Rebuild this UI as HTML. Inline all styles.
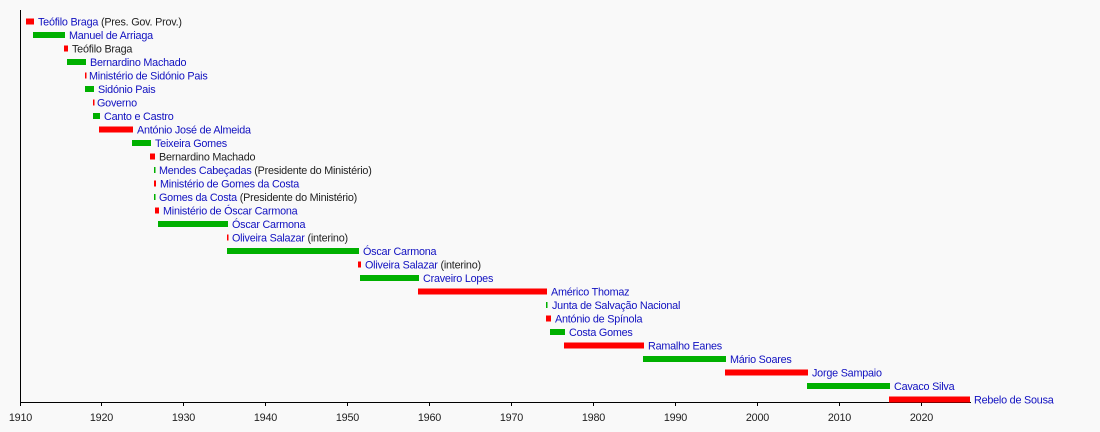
<!DOCTYPE html>
<html><head><meta charset="utf-8"><style>
html,body{margin:0;padding:0;background:#f9f9f9;}
svg{display:block;font-family:"Liberation Sans",sans-serif;}
.t{font-size:10.8px;letter-spacing:-0.22px;fill:#1010c0;}
.k{fill:#222;}
.r{fill:#f00;}.g{fill:#00b000;}
</style></head><body>
<svg width="1100" height="432" xmlns="http://www.w3.org/2000/svg">
<rect width="1100" height="432" fill="#f9f9f9"/>
<line x1="20.5" y1="10" x2="20.5" y2="402" stroke="#000"/>
<line x1="20" y1="402.5" x2="971" y2="402.5" stroke="#000"/>
<g stroke="#000">
<line x1="20.5" y1="402" x2="20.5" y2="406"/><line x1="101.5" y1="402" x2="101.5" y2="406"/><line x1="183.5" y1="402" x2="183.5" y2="406"/><line x1="265.5" y1="402" x2="265.5" y2="406"/><line x1="347.5" y1="402" x2="347.5" y2="406"/><line x1="429.5" y1="402" x2="429.5" y2="406"/><line x1="511.5" y1="402" x2="511.5" y2="406"/><line x1="593.5" y1="402" x2="593.5" y2="406"/><line x1="675.5" y1="402" x2="675.5" y2="406"/><line x1="757.5" y1="402" x2="757.5" y2="406"/><line x1="839.5" y1="402" x2="839.5" y2="406"/><line x1="921.5" y1="402" x2="921.5" y2="406"/>
</g>
<g font-size="10.8" fill="#222" text-anchor="middle" letter-spacing="-0.2">
<text x="20.5" y="421">1910</text><text x="101.5" y="421">1920</text><text x="183.5" y="421">1930</text><text x="265.5" y="421">1940</text><text x="347.5" y="421">1950</text><text x="429.5" y="421">1960</text><text x="511.5" y="421">1970</text><text x="593.5" y="421">1980</text><text x="675.5" y="421">1990</text><text x="757.5" y="421">2000</text><text x="839.5" y="421">2010</text><text x="921.5" y="421">2020</text>
</g>
<g>
<rect class="r" x="26" y="18.5" width="8" height="6"/><text class="t" x="38" y="25.5">Teófilo Braga<tspan class="k"> (Pres. Gov. Prov.)</tspan></text>
<rect class="g" x="33" y="32" width="32" height="6"/><text class="t" x="69" y="39">Manuel de Arriaga</text>
<rect class="r" x="64" y="45.5" width="4" height="6"/><text class="t k" x="72" y="52.5">Teófilo Braga</text>
<rect class="g" x="67" y="59" width="19" height="6"/><text class="t" x="90" y="66">Bernardino Machado</text>
<rect class="r" x="85" y="72.5" width="1.5" height="6"/><text class="t" x="89" y="79.5">Ministério de Sidónio Pais</text>
<rect class="g" x="85" y="86" width="9" height="6"/><text class="t" x="98" y="93">Sidónio Pais</text>
<rect class="r" x="93" y="99.5" width="1.5" height="6"/><text class="t" x="97" y="106.5">Governo</text>
<rect class="g" x="93" y="113" width="7" height="6"/><text class="t" x="104" y="120">Canto e Castro</text>
<rect class="r" x="99" y="126.5" width="34" height="6"/><text class="t" x="137" y="133.5">António José de Almeida</text>
<rect class="g" x="132" y="140" width="19" height="6"/><text class="t" x="155" y="147">Teixeira Gomes</text>
<rect class="r" x="150" y="153.5" width="5" height="6"/><text class="t k" x="159" y="160.5">Bernardino Machado</text>
<rect class="g" x="154" y="167" width="1.5" height="6"/><text class="t" x="159" y="174">Mendes Cabeçadas<tspan class="k"> (Presidente do Ministério)</tspan></text>
<rect class="r" x="154" y="180.5" width="2" height="6"/><text class="t" x="160" y="187.5">Ministério de Gomes da Costa</text>
<rect class="g" x="154" y="194" width="1.5" height="6"/><text class="t" x="159" y="201">Gomes da Costa<tspan class="k"> (Presidente do Ministério)</tspan></text>
<rect class="r" x="155" y="207.5" width="4" height="6"/><text class="t" x="163" y="214.5">Ministério de Óscar Carmona</text>
<rect class="g" x="158" y="221" width="70" height="6"/><text class="t" x="232" y="228">Óscar Carmona</text>
<rect class="r" x="227" y="234.5" width="1.5" height="6"/><text class="t" x="232" y="241.5">Oliveira Salazar<tspan class="k"> (interino)</tspan></text>
<rect class="g" x="227" y="248" width="132" height="6"/><text class="t" x="363" y="255">Óscar Carmona</text>
<rect class="r" x="358" y="261.5" width="3" height="6"/><text class="t" x="365" y="268.5">Oliveira Salazar<tspan class="k"> (interino)</tspan></text>
<rect class="g" x="360" y="275" width="59" height="6"/><text class="t" x="423" y="282">Craveiro Lopes</text>
<rect class="r" x="418" y="288.5" width="129" height="6"/><text class="t" x="551" y="295.5">Américo Thomaz</text>
<rect class="g" x="546" y="302" width="1.5" height="6"/><text class="t" x="552" y="309">Junta de Salvação Nacional</text>
<rect class="r" x="546" y="315.5" width="5" height="6"/><text class="t" x="555" y="322.5">António de Spínola</text>
<rect class="g" x="550" y="329" width="15" height="6"/><text class="t" x="569" y="336">Costa Gomes</text>
<rect class="r" x="564" y="342.5" width="80" height="6"/><text class="t" x="648" y="349.5">Ramalho Eanes</text>
<rect class="g" x="643" y="356" width="83" height="6"/><text class="t" x="730" y="363">Mário Soares</text>
<rect class="r" x="725" y="369.5" width="83" height="6"/><text class="t" x="812" y="376.5">Jorge Sampaio</text>
<rect class="g" x="807" y="383" width="83" height="6"/><text class="t" x="894" y="390">Cavaco Silva</text>
<rect class="r" x="889" y="396.5" width="81" height="6"/><text class="t" x="974" y="403.5">Rebelo de Sousa</text>
</g>
</svg>
</body></html>
